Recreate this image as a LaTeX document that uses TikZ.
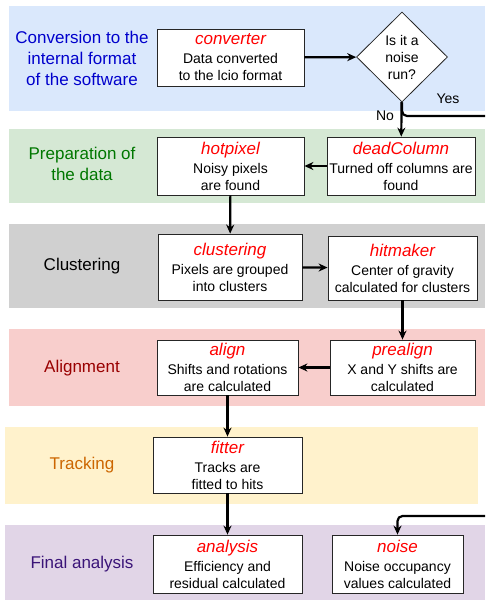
\documentclass[tikz,border=0pt]{standalone}
\usepackage{fontspec}
\setmainfont{Liberation Sans}
\usetikzlibrary{arrows.meta,shapes.geometric}

\definecolor{bandblue}{HTML}{DAE8FC}
\definecolor{bandgreen}{HTML}{D5E8D4}
\definecolor{bandgray}{HTML}{D0D0D0}
\definecolor{bandred}{HTML}{F8CECC}
\definecolor{bandyellow}{HTML}{FFF2CC}
\definecolor{bandpurple}{HTML}{E1D5E7}
\definecolor{phaseblue}{HTML}{0000CC}
\definecolor{phasegreen}{HTML}{007700}
\definecolor{phasered}{HTML}{990000}
\definecolor{phaseorange}{HTML}{CC6600}
\definecolor{phasepurple}{HTML}{3A1478}

\newcommand{\proc}[2]{{\fontsize{17}{20}\selectfont\itshape\color{red}#1}\\[2pt]#2}

\tikzset{
  stepbox/.style={draw=black!85, line width=0.8pt, fill=white, inner sep=0pt,
    align=center, font=\fontsize{14}{17}\selectfont},
  decision/.style={diamond, draw=black!85, line width=0.8pt, fill=white, inner sep=-3pt,
    minimum width=91pt, minimum height=90pt, align=center, font=\fontsize{14}{17}\selectfont},
  phase/.style={align=center, font=\fontsize{17}{21}\selectfont},
  flow/.style={-{Stealth[length=9pt,width=8pt]}, line width=2.2pt},
}

\begin{document}
\begin{tikzpicture}[x=1pt, y=-1pt]
  \useasboundingbox (0,0) rectangle (485,600);
  \clip (0,0) rectangle (485,600);
  % bands
  \fill[bandblue] (9,6) rectangle (485,111);
  \fill[bandgreen] (9,129) rectangle (485,203);
  \fill[bandgray] (9,224) rectangle (485,308);
  \fill[bandred] (9,329) rectangle (485,406);
  \fill[bandyellow] (5,427) rectangle (478,504);
  \fill[bandpurple] (5,525) rectangle (485,600);
  % phase names
  \draw
    (82,58) node[phase, text=phaseblue] (conversion){Conversion to the\\internal format\\of the software}
    (82,164) node[phase, text=phasegreen] (preparation){Preparation of\\the data}
    (82,266) node[phase] (clusterphase){Clustering}
    (82,368) node[phase, text=phasered] (alignment){Alignment}
    (82,465) node[phase, text=phaseorange] (tracking){Tracking}
    (82,564) node[phase, text=phasepurple] (final){Final analysis};
  % processors
  \draw
    (230.5,57.5) node[stepbox, minimum width=147pt, minimum height=57pt] (converter){\proc{converter}{Data converted\\to the lcio format}}
    (402,57) node[decision] (noiserun){Is it a\\noise\\run?}
    (401,166) node[stepbox, minimum width=148pt, minimum height=58pt] (deadcolumn){\proc{deadColumn}{Turned off columns are\\found}}
    (230.5,166) node[stepbox, minimum width=147pt, minimum height=58pt] (hotpixel){\proc{hotpixel}{Noisy pixels\\are found}}
    (230,267) node[stepbox, minimum width=144pt, minimum height=66pt] (clustering){\proc{clustering}{Pixels are grouped\\into clusters}}
    (402.5,268) node[stepbox, minimum width=149pt, minimum height=64pt] (hitmaker){\proc{hitmaker}{Center of gravity\\calculated for clusters}}
    (402.5,367.5) node[stepbox, minimum width=145pt, minimum height=55pt] (prealign){\proc{prealign}{X and Y shifts are\\calculated}}
    (227.5,367.5) node[stepbox, minimum width=141pt, minimum height=55pt] (align){\proc{align}{Shifts and rotations\\are calculated}}
    (227.5,465) node[stepbox, minimum width=149pt, minimum height=56pt] (fitter){\proc{fitter}{Tracks are\\fitted to hits}}
    (227.5,564) node[stepbox, minimum width=149pt, minimum height=58pt] (analysis){\proc{analysis}{Efficiency and\\residual calculated}}
    (397.5,564) node[stepbox, minimum width=131pt, minimum height=58pt] (noise){\proc{noise}{Noise occupancy\\values calculated}};
  \node[font=\fontsize{14}{17}\selectfont] (yes) at (448,99) {Yes};
  \node[font=\fontsize{14}{17}\selectfont] (no) at (385,116) {No};
  \coordinate (yesout) at (495,116);
  \coordinate (yesin) at (495,516);
  \begin{scope}[flow]
    \draw (converter) to (noiserun);
    \draw (noiserun) to (deadcolumn);
    \draw (deadcolumn) to (hotpixel);
    \draw (hotpixel) to (clustering);
    \draw (clustering) to (hitmaker);
    \draw (hitmaker) to (prealign);
    \draw (prealign) to (align);
    \draw (align) to (fitter);
    \draw (fitter) to (analysis);
    \draw[rounded corners=5pt] (noiserun.south) |- (yesout) -- (yesin) -| (noise.north);
  \end{scope}
\end{tikzpicture}
\end{document}
